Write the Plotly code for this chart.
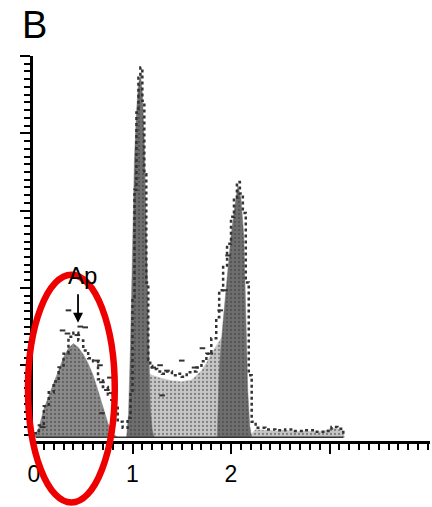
import plotly.graph_objects as go

# DNA content (G1 = 1) and relative cell counts for each fitted component
apo_x = [0.00, 0.05, 0.10, 0.15, 0.20, 0.25, 0.30, 0.35, 0.40, 0.45, 0.50,
         0.55, 0.60, 0.65, 0.70, 0.75, 0.80, 0.85]
apo_y = [0.00, 0.12, 0.36, 0.54, 0.70, 0.86, 1.03, 1.15, 1.21, 1.16, 1.07,
         0.95, 0.80, 0.60, 0.40, 0.18, 0.04, 0.00]

g1_x = [0.94, 0.96, 0.98, 1.00, 1.02, 1.04, 1.06, 1.08, 1.10, 1.12, 1.14,
        1.16, 1.18, 1.20, 1.22]
g1_y = [0.00, 0.30, 1.20, 2.60, 3.60, 4.20, 4.55, 4.70, 4.45, 3.80, 2.60,
        1.20, 0.40, 0.10, 0.00]

s_x = [1.02, 1.08, 1.12, 1.15, 1.20, 1.30, 1.40, 1.50, 1.60, 1.70, 1.75,
       1.80, 1.85, 1.90, 1.96, 2.02, 2.08, 2.12]
s_y = [0.00, 0.40, 0.70, 0.83, 0.80, 0.76, 0.73, 0.72, 0.74, 0.86, 0.96,
       1.08, 1.18, 1.28, 1.10, 0.70, 0.30, 0.00]

g2_x = [1.86, 1.88, 1.92, 1.96, 2.00, 2.04, 2.07, 2.10, 2.13, 2.15, 2.17,
        2.19, 2.21]
g2_y = [0.00, 0.90, 1.50, 2.10, 2.60, 3.00, 3.25, 3.10, 2.60, 1.60, 0.60,
        0.15, 0.00]

tail_x = [2.18, 2.25, 2.35, 2.45, 2.55, 2.65, 2.75, 2.85, 2.95, 3.02, 3.08,
          3.14, 3.15]
tail_y = [0.00, 0.10, 0.09, 0.08, 0.09, 0.07, 0.08, 0.07, 0.08, 0.12, 0.11,
          0.08, 0.00]

# Raw histogram envelope
data_x = [0.00, 0.05, 0.10, 0.15, 0.20, 0.25, 0.30, 0.35, 0.40, 0.45, 0.50,
          0.55, 0.60, 0.65, 0.70, 0.75, 0.80, 0.85, 0.90, 0.95, 0.98, 1.00,
          1.02, 1.04, 1.06, 1.08, 1.10, 1.12, 1.14, 1.16, 1.18, 1.20, 1.25,
          1.30, 1.35, 1.40, 1.45, 1.50, 1.55, 1.60, 1.65, 1.70, 1.75, 1.80,
          1.85, 1.88, 1.92, 1.96, 2.00, 2.03, 2.06, 2.09, 2.12, 2.15, 2.18,
          2.21, 2.25, 2.35, 2.45, 2.55, 2.65, 2.75, 2.85, 2.95, 3.02, 3.08,
          3.14]
data_y = [0.05, 0.15, 0.40, 0.58, 0.72, 0.90, 1.08, 1.30, 1.35, 1.25, 1.12,
          1.02, 0.98, 0.75, 0.65, 0.55, 0.40, 0.20, 0.12, 0.25, 0.60, 1.80,
          3.20, 4.20, 4.65, 4.78, 4.35, 3.40, 2.00, 1.00, 0.92, 0.88, 0.85,
          0.82, 0.85, 0.80, 0.82, 0.78, 0.84, 0.85, 0.90, 0.98, 1.08, 1.28,
          1.55, 1.90, 2.20, 2.50, 2.85, 3.10, 3.30, 3.15, 2.90, 2.00, 0.80,
          0.20, 0.12, 0.10, 0.09, 0.10, 0.08, 0.09, 0.07, 0.08, 0.13, 0.11,
          0.00]

# Isolated channel counts scattered off the envelope
dots_x = [0.35, 0.47, 0.29, 0.34, 0.44, 0.52, 0.64, 0.67, 0.69, 0.77, 0.74,
          0.79, 0.80, 0.09, 0.69, 1.21, 1.28, 1.35, 1.50, 1.63, 1.71, 1.79,
          1.89, 1.94, 1.30, 1.97]
dots_y = [1.64, 1.43, 1.38, 1.34, 1.32, 1.42, 0.99, 0.93, 0.71, 0.77, 0.61,
          0.57, 0.48, 0.13, 0.31, 0.90, 0.93, 0.86, 0.99, 0.90, 1.15, 1.08,
          1.64, 1.90, 0.54, 2.35]

x_ticks = [0, 1, 2, 3]
x_tick_text = ["0", "1", "2", ""]

DARK = "#7c7c7c"
LIGHT = "#c6c6c6"

fig = go.Figure()


def component(x, y, color, pattern_bg):
    fig.add_trace(go.Scatter(
        x=x, y=y, mode="lines", fill="tozeroy",
        line=dict(color=color, width=0.5),
        fillcolor=color,
        fillpattern=dict(shape=".", fgcolor="#3a3a3a", bgcolor=pattern_bg,
                         size=4, solidity=0.25),
        hoverinfo="skip",
    ))


component(tail_x, tail_y, LIGHT, LIGHT)
component(s_x, s_y, LIGHT, LIGHT)
component(apo_x, apo_y, DARK, "#8a8a8a")
component(g1_x, g1_y, DARK, "#6e6e6e")
component(g2_x, g2_y, DARK, "#6e6e6e")

# baseline under the histogram
fig.add_trace(go.Scatter(
    x=[0.02, 3.14], y=[0, 0], mode="lines",
    line=dict(color="#333333", width=1.5), hoverinfo="skip",
))

fig.add_trace(go.Scatter(
    x=data_x, y=data_y, mode="lines",
    line=dict(color="#333333", width=2.5, dash="3px,3px", shape="hv"),
    hoverinfo="skip",
))

fig.add_trace(go.Scatter(
    x=dots_x, y=dots_y, mode="markers",
    marker=dict(symbol="line-ew", size=4,
                line=dict(color="#333333", width=2)),
    hoverinfo="skip",
))

FONT = "Liberation Sans, Arial, sans-serif"

fig.update_layout(
    width=432, height=507,
    margin=dict(l=33, r=2, t=56, b=66),
    paper_bgcolor="white", plot_bgcolor="white",
    showlegend=False,
    font=dict(family=FONT, color="black"),
    xaxis=dict(
        range=[-0.01, 4.02], showgrid=False, zeroline=False,
        showline=True, linewidth=3, linecolor="black",
        ticks="outside", ticklen=10, tickwidth=2, tickcolor="black",
        tickmode="array", tickvals=x_ticks, ticktext=x_tick_text,
        tickfont=dict(size=23, family=FONT),
        minor=dict(ticks="outside", dtick=0.1, tick0=0, ticklen=6,
                   tickwidth=1.5, tickcolor="black"),
    ),
    yaxis=dict(
        range=[-0.05, 4.93], showgrid=False, zeroline=False,
        showline=True, linewidth=3, linecolor="black",
        ticks="outside", ticklen=10, tickwidth=2, tickcolor="black",
        tickmode="linear", tick0=4.93, dtick=1, showticklabels=False,
        minor=dict(ticks="outside", dtick=0.1, tick0=4.93, ticklen=6,
                   tickwidth=1.5, tickcolor="black"),
    ),
    shapes=[dict(
        type="circle", xref="paper", yref="paper",
        x0=-0.0126, x1=0.206, y0=-0.160, y1=0.432,
        line=dict(color="#ee0000", width=6.5),
    )],
    annotations=[
        dict(text="B", xref="paper", yref="paper", x=-0.032, y=1.14,
             xanchor="left", yanchor="top", showarrow=False,
             font=dict(size=38, family=FONT)),
        dict(text="Ap", x=0.49, y=2.09, xanchor="center", yanchor="middle",
             showarrow=False, font=dict(size=24, family=FONT)),
        dict(text="", x=0.447, y=1.48, ax=0, ay=-30, showarrow=True,
             arrowhead=2, arrowsize=1.1, arrowwidth=1.8, arrowcolor="black"),
    ],
)

fig.write_html("out.html")
